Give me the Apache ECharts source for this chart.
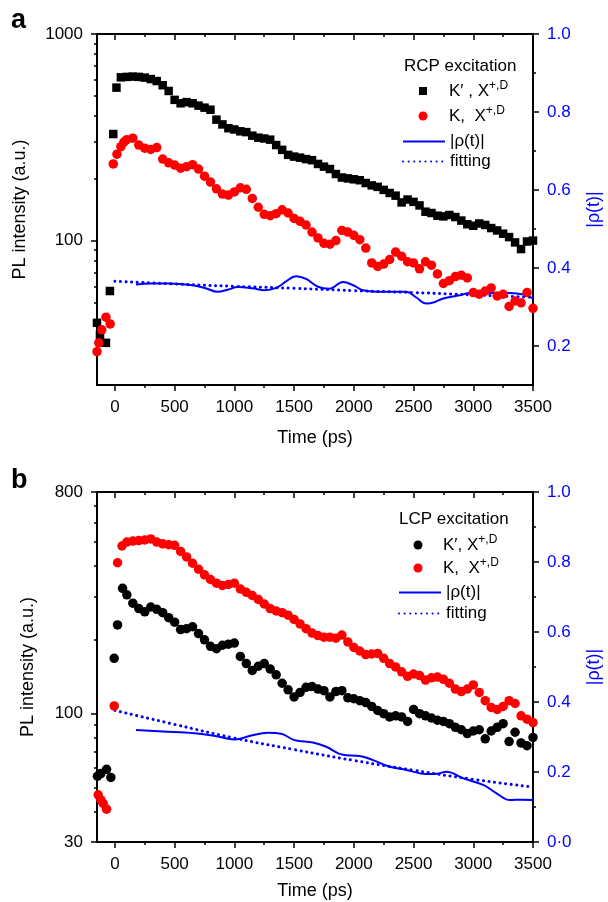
<!DOCTYPE html>
<html>
<head>
<meta charset="utf-8">
<script src="https://cdn.jsdelivr.net/npm/echarts@6/dist/echarts.min.js"></script>
<style>
  html, body { margin: 0; padding: 0; background: #fff; }
  #chart { width: 608px; height: 902px; }
</style>
</head>
<body>
<div id="chart"></div>
<script>
// panel a, RCP excitation: [time (ps), PL intensity]
const aKprime = [[-150,40],[-125,35],[-75,32],[-42,57],[-14,328],[13,550],[50,617],[100,620],[150,622],[200,620],[250,615],[300,605],[350,592],[400,565],[450,530],[500,480],[550,462],[600,468],[650,462],[700,450],[750,440],[800,430],[850,385],[900,365],[950,350],[1000,345],[1050,338],[1100,335],[1150,322],[1200,315],[1250,312],[1300,308],[1350,290],[1400,275],[1450,260],[1500,255],[1550,252],[1600,248],[1650,245],[1700,235],[1750,228],[1800,222],[1850,210],[1900,202],[1950,200],[2000,198],[2050,196],[2100,190],[2150,185],[2200,182],[2250,176],[2300,170],[2350,165],[2400,153],[2450,158],[2500,154],[2550,148],[2600,138],[2650,136],[2700,132],[2750,131],[2800,133],[2850,130],[2900,125],[2950,120],[3000,118],[3050,121],[3100,119],[3150,115],[3200,112],[3250,108],[3300,104],[3350,98],[3400,91],[3450,99],[3500,100]]
const aK = [[-150,29],[-135,32],[-110,37],[-75,42.6],[-40,39.5],[-14,235],[17,262],[50,285],[75,300],[100,308],[150,313],[200,290],[250,280],[300,276],[350,282],[400,248],[450,238],[500,232],[550,224],[600,228],[650,233],[700,222],[750,205],[800,192],[850,178],[900,168],[950,166],[1000,172],[1050,180],[1100,177],[1150,160],[1200,145],[1250,134],[1300,132],[1350,135],[1400,141],[1450,136],[1500,128],[1550,124],[1600,119],[1650,110],[1700,103],[1750,97],[1800,96],[1850,100],[1900,112],[1950,110],[2000,106],[2050,101],[2100,92],[2150,78],[2200,75],[2250,77],[2300,81],[2350,88],[2400,84],[2450,79],[2500,78],[2550,73],[2600,79],[2650,76],[2700,69],[2750,62],[2800,64],[2850,67],[2900,68],[2950,66],[3000,56],[3050,55],[3100,57],[3150,59],[3200,54],[3250,55],[3300,48],[3350,51],[3400,50],[3450,56],[3500,47]]
// |rho(t)| and its fit (right axis)
const aRho = [[176,0.358],[300,0.360],[450,0.360],[650,0.356],[760,0.348],[861,0.339],[950,0.345],[1028,0.351],[1150,0.348],[1252,0.343],[1350,0.349],[1430,0.365],[1518,0.379],[1600,0.372],[1700,0.352],[1797,0.347],[1909,0.364],[2000,0.355],[2077,0.343],[2245,0.339],[2441,0.339],[2520,0.325],[2608,0.309],[2680,0.313],[2748,0.322],[2888,0.330],[2971,0.336],[3150,0.336],[3307,0.336],[3420,0.332],[3500,0.322]]
const aFit = [[0,0.366],[500,0.359],[1000,0.353],[1500,0.348],[2000,0.342],[2500,0.337],[3000,0.331],[3500,0.325]]

// panel b, LCP excitation
const bKprime = [[-146,55.6],[-117,57],[-70,59.3],[-34,55],[-6,168],[22,230],[64,324],[100,305],[150,282],[200,268],[250,260],[300,272],[350,266],[400,258],[450,246],[500,236],[550,220],[600,222],[650,226],[700,212],[750,200],[800,188],[850,184],[900,190],[950,192],[1000,194],[1050,171],[1100,160],[1150,150],[1200,156],[1250,160],[1300,152],[1350,144],[1400,133],[1450,125],[1500,117],[1550,122],[1600,128],[1650,129],[1700,126],[1750,124],[1800,117],[1850,123],[1900,124],[1950,116],[2000,115],[2050,113],[2100,111],[2150,107],[2200,103],[2250,100],[2300,97],[2350,98],[2400,97],[2450,93],[2500,104],[2550,100],[2600,98],[2650,96],[2700,94],[2750,93],[2800,91],[2850,88],[2900,86],[2950,83],[3000,85],[3050,86],[3100,79],[3150,85],[3200,88],[3250,91],[3300,77],[3350,84],[3400,76],[3450,74],[3500,80]]
const bK = [[-140,46.7],[-117,44.5],[-98,43.1],[-70,40.8],[-6,107.5],[22,412],[59,482],[100,500],[150,505],[200,507],[250,510],[300,515],[350,500],[400,492],[450,488],[500,485],[550,458],[600,435],[650,410],[700,388],[750,368],[800,352],[850,340],[900,333],[950,336],[1000,340],[1050,322],[1100,312],[1150,303],[1200,292],[1250,280],[1300,268],[1350,262],[1400,258],[1450,252],[1500,242],[1550,232],[1600,222],[1650,213],[1700,208],[1750,205],[1800,205],[1850,203],[1900,209],[1950,196],[2000,186],[2050,180],[2100,174],[2150,175],[2200,176],[2250,168],[2300,160],[2350,155],[2400,148],[2450,142],[2500,145],[2550,143],[2600,137],[2650,140],[2700,141],[2750,138],[2800,133],[2850,126],[2900,123],[2950,126],[3000,131],[3050,122],[3100,113],[3150,106],[3200,104],[3250,107],[3300,113],[3350,110],[3400,98],[3450,95],[3500,92]]
const bRho = [[176,0.320],[400,0.316],[665,0.311],[850,0.302],[1000,0.293],[1050,0.295],[1150,0.305],[1280,0.312],[1392,0.309],[1504,0.291],[1657,0.284],[1769,0.272],[1909,0.249],[2049,0.246],[2161,0.234],[2301,0.215],[2441,0.206],[2608,0.194],[2700,0.195],[2776,0.201],[2916,0.182],[3083,0.163],[3195,0.139],[3307,0.120],[3400,0.121],[3500,0.120]]
const bFit = [[0,0.376],[500,0.336],[1000,0.297],[1500,0.264],[2000,0.233],[2500,0.205],[3000,0.179],[3500,0.157]]

// axis ranges and ticks
const timeRange = [-150, 3500]
const timeMajor = [0, 500, 1000, 1500, 2000, 2500, 3000, 3500]
const timeMinor = [250, 750, 1250, 1750, 2250, 2750, 3250]
const aIntRange = [20, 1000]
const aIntMinor = [30, 40, 50, 60, 70, 80, 90, 200, 300, 400, 500, 600, 700, 800, 900]
const bIntRange = [30, 800]
const bIntMinor = [40, 50, 60, 70, 80, 90, 200, 300, 400, 500, 600, 700]
const aRhoRange = [0.1, 1.0]
const aRhoMajor = [0.2, 0.4, 0.6, 0.8, 1.0]
const aRhoMinor = [0.3, 0.5, 0.7, 0.9]
const bRhoRange = [0, 1.0]
const bRhoMajor = [0, 0.2, 0.4, 0.6, 0.8, 1.0]
const bRhoMinor = [0.1, 0.3, 0.5, 0.7, 0.9]

const FONT = 'Liberation Sans, Arial, sans-serif'
const BLUE = '#0000ff'
const RED = '#ff0000'

const legendText = {
  aKp: '{t|K′ , X}{s|+,D}',
  aK: '{t|K,  X}{s|+,D}',
  aRho: '|ρ(t)|',
  aFit: 'fitting',
  bKp: '{t|K′, X}{s|+,D}',
  bK: '{t|K,  X}{s|+,D}',
  bRho: '|ρ(t)|',
  bFit: 'fitting'
}

const myChart = echarts.init(document.getElementById('chart'), null, { renderer: 'canvas' })

const axisLineStyle = { color: '#000', width: 2 }
const tickStyle = { color: '#000', width: 1.5 }
const labelStyle = { fontSize: 17, color: '#000', fontFamily: FONT }

function xAxes(g, nameGap) {
  const base = {
    gridIndex: g, type: 'value', min: timeRange[0], max: timeRange[1],
    splitLine: { show: false }
  }
  return [{
    ...base, position: 'bottom',
    axisLine: { onZero: false, lineStyle: axisLineStyle },
    axisTick: { customValues: timeMajor, length: 6, lineStyle: tickStyle },
    axisLabel: { customValues: timeMajor, margin: 14, formatter: v => String(v), ...labelStyle },
    name: 'Time (ps)', nameLocation: 'middle', nameGap: nameGap,
    nameTextStyle: { fontSize: 18, color: '#000', fontFamily: FONT }
  }, {
    ...base, position: 'bottom',
    axisLine: { show: false, onZero: false },
    axisTick: { customValues: timeMinor, length: 3, lineStyle: tickStyle },
    axisLabel: { show: false }
  }, {
    ...base, position: 'top',
    axisLine: { onZero: false, lineStyle: axisLineStyle },
    axisTick: { customValues: timeMajor, inside: true, length: 6, lineStyle: tickStyle },
    axisLabel: { show: false }
  }, {
    ...base, position: 'top',
    axisLine: { show: false, onZero: false },
    axisTick: { customValues: timeMinor, inside: true, length: 3, lineStyle: tickStyle },
    axisLabel: { show: false }
  }]
}

function yAxes(g, intRange, intMinor, showMin, nameGap, rhoRange, rhoMajor, rhoMinor) {
  return [{
    gridIndex: g, type: 'log', logBase: 10, min: intRange[0], max: intRange[1], position: 'left',
    axisLine: { onZero: false, lineStyle: axisLineStyle },
    axisTick: { length: 6, lineStyle: tickStyle },
    axisLabel: { margin: 14, showMinLabel: showMin, formatter: v => String(Math.round(v)), ...labelStyle },
    splitLine: { show: false },
    name: 'PL intensity (a.u.)', nameLocation: 'middle', nameGap: nameGap,
    nameTextStyle: { fontSize: 18, color: '#000', fontFamily: FONT }
  }, {
    // minor ticks of the log axis, placed on a linear overlay in log10 units
    gridIndex: g, type: 'value', min: Math.log10(intRange[0]), max: Math.log10(intRange[1]), position: 'left',
    axisLine: { show: false, onZero: false },
    axisTick: { customValues: intMinor.map(Math.log10), length: 3, lineStyle: tickStyle },
    axisLabel: { show: false },
    splitLine: { show: false }
  }, {
    gridIndex: g, type: 'value', min: rhoRange[0], max: rhoRange[1], position: 'right',
    axisLine: { onZero: false, lineStyle: axisLineStyle },
    axisTick: { customValues: rhoMajor, length: 6, lineStyle: tickStyle },
    axisLabel: {
      customValues: rhoMajor, margin: 14, fontSize: 17, color: BLUE, fontFamily: FONT,
      formatter: v => (v === 0 ? '0·0' : v.toFixed(1))
    },
    splitLine: { show: false },
    name: '|ρ(t)|', nameLocation: 'middle', nameGap: 52,
    nameTextStyle: { fontSize: 18, color: BLUE, fontFamily: FONT }
  }, {
    gridIndex: g, type: 'value', min: rhoRange[0], max: rhoRange[1], position: 'right',
    axisLine: { show: false, onZero: false },
    axisTick: { customValues: rhoMinor, length: 3, lineStyle: tickStyle },
    axisLabel: { show: false },
    splitLine: { show: false }
  }]
}

function panelSeries(g, p, kp, kpSymbol, kpSize, k, rho, fit) {
  const xi = g * 4
  const yi = g * 4
  return [{
    name: p + 'Rho', type: 'line', xAxisIndex: xi, yAxisIndex: yi + 2, data: rho,
    smooth: 0.4, symbol: 'none', lineStyle: { color: BLUE, width: 2 }, itemStyle: { color: BLUE }, z: 2
  }, {
    name: p + 'Fit', type: 'line', xAxisIndex: xi, yAxisIndex: yi + 2, data: fit,
    smooth: true, symbol: 'none',
    lineStyle: { color: BLUE, width: 3, type: [0.1, 5.5], cap: 'round' }, itemStyle: { color: BLUE }, z: 2
  }, {
    name: p + 'Kp', type: 'scatter', xAxisIndex: xi, yAxisIndex: yi, data: kp,
    symbol: kpSymbol, symbolSize: kpSize, itemStyle: { color: '#000', opacity: 1 }, z: 3
  }, {
    name: p + 'K', type: 'scatter', xAxisIndex: xi, yAxisIndex: yi, data: k,
    symbol: 'circle', symbolSize: 9.5, itemStyle: { color: RED, opacity: 1 }, z: 3
  }]
}

const richText = {
  t: { fontSize: 17, lineHeight: 22, color: '#000', fontFamily: FONT },
  s: { fontSize: 12, lineHeight: 10, verticalAlign: 'top', color: '#000', fontFamily: FONT }
}

// legend entry for a line series: icon is the line itself
function lineLegend(name, left, top) {
  return {
    data: [name], left: left, top: top, orient: 'vertical', padding: 0,
    itemWidth: 42, itemHeight: 9, selectedMode: false,
    itemStyle: { opacity: 0 },
    formatter: n => legendText[n],
    textStyle: { fontSize: 17, color: '#000', fontFamily: FONT, rich: richText }
  }
}

// legend entry for a scatter series: small marker, text pushed right
function markLegend(name, left, top, size, textPad) {
  return {
    data: [name], left: left, top: top, orient: 'vertical', padding: 0,
    itemWidth: size, itemHeight: size, selectedMode: false,
    formatter: n => legendText[n],
    textStyle: { fontSize: 17, color: '#000', fontFamily: FONT, padding: [0, 0, 0, textPad], rich: richText }
  }
}

const option = {
  animation: false,
  backgroundColor: '#fff',
  grid: [
    { left: 97, top: 34, width: 436, height: 351, containLabel: false, outerBoundsMode: 'none' },
    { left: 97, top: 492, width: 436, height: 350, containLabel: false, outerBoundsMode: 'none' }
  ],
  xAxis: [...xAxes(0, 44), ...xAxes(1, 40)],
  yAxis: [
    ...yAxes(0, aIntRange, aIntMinor, false, 68, aRhoRange, aRhoMajor, aRhoMinor),
    ...yAxes(1, bIntRange, bIntMinor, true, 60, bRhoRange, bRhoMajor, bRhoMinor)
  ],
  legend: [
    markLegend('aKp', 419, 80, 8, 17),
    markLegend('aK', 418.5, 105, 9, 16.5),
    lineLegend('aRho', 402, 133),
    lineLegend('aFit', 402, 153),
    markLegend('bKp', 413.5, 534, 9, 15.5),
    markLegend('bK', 413.5, 557, 9, 15.5),
    lineLegend('bRho', 398, 584),
    lineLegend('bFit', 398, 605)
  ],
  graphic: [
    { type: 'text', left: 11, top: 7, style: { text: 'a', font: 'bold 27px ' + FONT, fill: '#000' } },
    { type: 'text', left: 11, top: 467, style: { text: 'b', font: 'bold 27px ' + FONT, fill: '#000' } },
    { type: 'text', left: 404, top: 58, style: { text: 'RCP excitation', font: '17px ' + FONT, fill: '#000' } },
    { type: 'text', left: 399, top: 511, style: { text: 'LCP excitation', font: '17px ' + FONT, fill: '#000' } }
  ],
  series: [
    ...panelSeries(0, 'a', aKprime, 'rect', 8.5, aK, aRho, aFit),
    ...panelSeries(1, 'b', bKprime, 'circle', 9.5, bK, bRho, bFit)
  ]
}

option && myChart.setOption(option)
</script>
</body>
</html>
